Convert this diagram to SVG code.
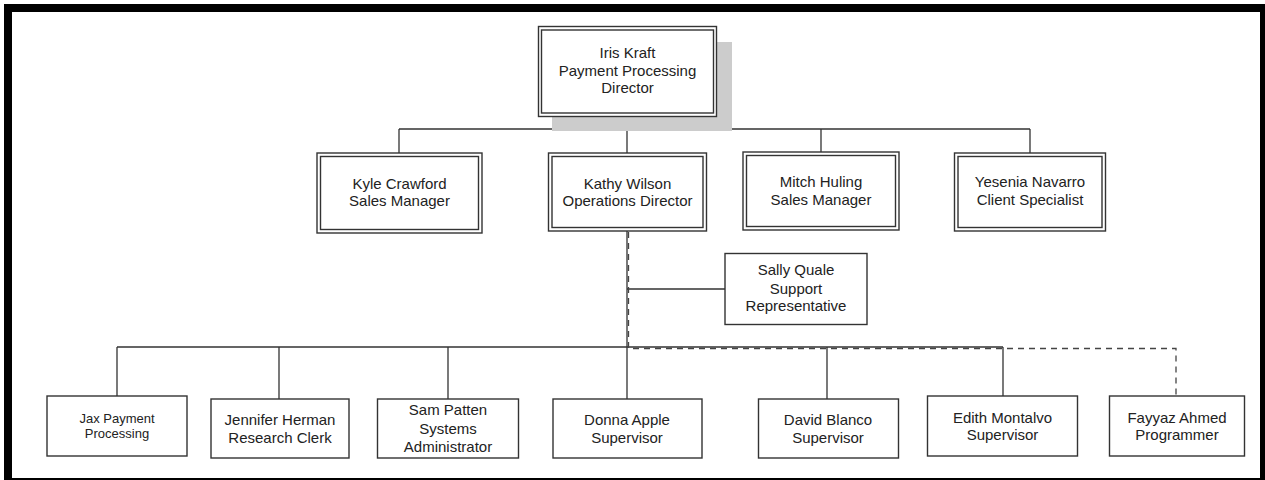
<svg xmlns="http://www.w3.org/2000/svg" width="1265" height="480" viewBox="0 0 1265 480">
<style>
.t{font-family:"Liberation Sans",Arial,sans-serif;font-size:15px;fill:#222;text-anchor:middle}
.s{font-size:13px}
.b{fill:#fff;stroke:#333;stroke-width:1.4}
.bi{fill:none;stroke:#333;stroke-width:1.4}
.c{fill:none;stroke:#333;stroke-width:1.3}
.d{fill:none;stroke:#444;stroke-width:1.3;stroke-dasharray:6 5}
</style>
<rect width="1265" height="480" fill="#fff"/>
<path d="M4 4H1275V490H4Z M12 12V478H1260V12Z" fill="#000" fill-rule="evenodd"/>
<g id="connectors">
<path class="c" d="M627 117V153 M399 129H1030 M399 129V153 M821 129V152 M1030 129V153"/>
<path class="c" d="M627 231V347 M627 289H725 M117 347H1003 M117 347V396 M279 347V399 M448 347V399 M627 347V399 M827 347V399 M1003 347V396"/>
<path class="d" d="M628.5 232V348.5H1176V396"/>
</g>
<g id="iris">
<rect x="552" y="42" width="180" height="89" fill="#cccccc"/>
<rect class="b" x="538.5" y="26.5" width="178" height="90"/>
<rect class="bi" x="541.5" y="30" width="172" height="83"/>
<text class="t" x="627.5" y="58">Iris Kraft</text>
<text class="t" x="627.5" y="75.5">Payment Processing</text>
<text class="t" x="627.5" y="93">Director</text>
</g>
<g id="kyle">
<rect class="b" x="317" y="153" width="165" height="80"/>
<rect class="bi" x="320.5" y="156.5" width="158" height="73"/>
<text class="t" x="399.5" y="188.5">Kyle Crawford</text>
<text class="t" x="399.5" y="206">Sales Manager</text>
</g>
<g id="kathy">
<rect class="b" x="548.5" y="153" width="158" height="78"/>
<rect class="bi" x="552" y="156.5" width="151" height="71"/>
<text class="t" x="627.5" y="188.5">Kathy Wilson</text>
<text class="t" x="627.5" y="206">Operations Director</text>
</g>
<g id="mitch">
<rect class="b" x="743" y="152" width="156" height="78"/>
<rect class="bi" x="746.5" y="155.5" width="149" height="71"/>
<text class="t" x="821" y="187">Mitch Huling</text>
<text class="t" x="821" y="204.5">Sales Manager</text>
</g>
<g id="yesenia">
<rect class="b" x="954.5" y="153" width="151" height="78"/>
<rect class="bi" x="958" y="156.5" width="144" height="71"/>
<text class="t" x="1030" y="187">Yesenia Navarro</text>
<text class="t" x="1030" y="204.5">Client Specialist</text>
</g>
<g id="sally">
<rect class="b" x="725" y="253.5" width="142" height="71"/>
<text class="t" x="796" y="275">Sally Quale</text>
<text class="t" x="796" y="293.5">Support</text>
<text class="t" x="796" y="311">Representative</text>
</g>
<g id="jax">
<rect class="b" x="47" y="396" width="140" height="60"/>
<text class="t s" x="117" y="423">Jax Payment</text>
<text class="t s" x="117" y="438">Processing</text>
</g>
<g id="jennifer">
<rect class="b" x="211" y="399" width="138" height="59"/>
<text class="t" x="280" y="425">Jennifer Herman</text>
<text class="t" x="280" y="442.5">Research Clerk</text>
</g>
<g id="sam">
<rect class="b" x="377.5" y="399" width="141" height="59"/>
<text class="t" x="448" y="415">Sam Patten</text>
<text class="t" x="448" y="433.5">Systems</text>
<text class="t" x="448" y="452">Administrator</text>
</g>
<g id="donna">
<rect class="b" x="553" y="399" width="149" height="59"/>
<text class="t" x="627" y="424.5">Donna Apple</text>
<text class="t" x="627" y="442.5">Supervisor</text>
</g>
<g id="david">
<rect class="b" x="758.5" y="399" width="140" height="59"/>
<text class="t" x="828" y="424.5">David Blanco</text>
<text class="t" x="828" y="442.5">Supervisor</text>
</g>
<g id="edith">
<rect class="b" x="927.5" y="396" width="150" height="60"/>
<text class="t" x="1002.5" y="422.5">Edith Montalvo</text>
<text class="t" x="1002.5" y="440">Supervisor</text>
</g>
<g id="fayyaz">
<rect class="b" x="1109.5" y="396" width="135" height="60"/>
<text class="t" x="1177" y="422.5">Fayyaz Ahmed</text>
<text class="t" x="1177" y="440">Programmer</text>
</g>
</svg>
